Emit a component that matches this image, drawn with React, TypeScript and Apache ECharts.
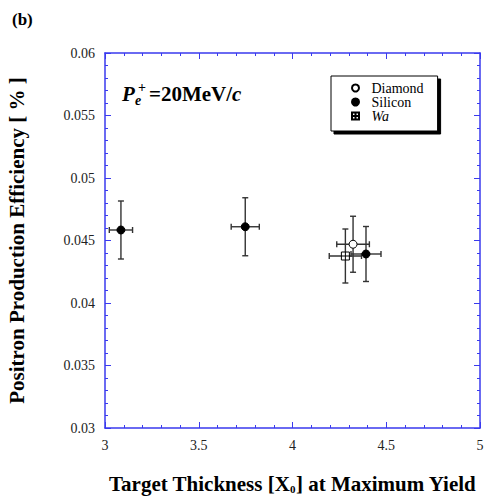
import React, { useEffect, useRef } from "react";
import * as echarts from "echarts";

const FONT = "Liberation Serif";

const seriesNames = ["Diamond", "Silicon", "Wa"];

const diamondX = [4.323];
const diamondY = [0.0447];
const diamondXErr = [0.087];
const diamondYErr = [0.00224];

const siliconX = [3.085, 3.748, 4.392];
const siliconY = [0.04584, 0.0461, 0.04392];
const siliconXErr = [0.062, 0.075, 0.08];
const siliconYErr = [0.00232, 0.00232, 0.0022];

const waX = [4.282];
const waY = [0.04376];
const waXErr = [0.086];
const waYErr = [0.00216];

const xTicks = [3, 3.5, 4, 4.5, 5];
const yTicks = [0.03, 0.035, 0.04, 0.045, 0.05, 0.055, 0.06];

const WA_SYMBOL = "path://M0,0H10V10H0ZM5,0V10M0,5H10";

function pts(xs: number[], ys: number[]) {
  return xs.map((x, i) => [x, ys[i]]);
}
function errs(xs: number[], ys: number[], xe: number[], ye: number[]) {
  return xs.map((x, i) => [x, ys[i], xe[i], ye[i]]);
}

export default function App() {
  const ref = useRef<HTMLDivElement>(null);
  useEffect(() => {
    if (!ref.current) return;
    const chart = echarts.init(ref.current, null, { renderer: "svg" });
    const axisColor = "#3a3aee";
    const errData = [
      ...errs(diamondX, diamondY, diamondXErr, diamondYErr),
      ...errs(siliconX, siliconY, siliconXErr, siliconYErr),
      ...errs(waX, waY, waXErr, waYErr),
    ];
    const commonX = {
      type: "value",
      min: xTicks[0],
      max: xTicks[xTicks.length - 1],
      interval: 0.5,
      axisLine: { show: true, lineStyle: { color: axisColor, width: 1.5 } },
      axisTick: { show: true, inside: true, length: 6, lineStyle: { color: axisColor } },
      minorTick: { show: true, splitNumber: 5, length: 3, lineStyle: { color: axisColor } },
      splitLine: { show: false },
    };
    const commonY = {
      type: "value",
      min: yTicks[0],
      max: yTicks[yTicks.length - 1],
      interval: 0.005,
      axisLine: { show: true, lineStyle: { color: axisColor, width: 1.5 } },
      axisTick: { show: true, inside: true, length: 6, lineStyle: { color: axisColor } },
      minorTick: { show: true, splitNumber: 5, length: 3, lineStyle: { color: axisColor } },
      splitLine: { show: false },
    };
    const bi = { fontFamily: FONT, fontWeight: "bold", fontStyle: "italic", fill: "#000" };
    chart.setOption({
      animation: false,
      backgroundColor: "#ffffff",
      grid: { left: 105, right: 16, top: 53, bottom: 68, outerBoundsMode: "none", containLabel: false },
      xAxis: [
        {
          ...commonX,
          position: "bottom",
          axisLabel: {
            color: "#222",
            fontFamily: FONT,
            fontSize: 14,
            margin: 10,
            formatter: (v: number) => String(v),
          },
          name: "{b|Target Thickness [X}{s|0}{b|] at Maximum Yield}",
          nameLocation: "middle",
          nameGap: 45,
          nameTextStyle: {
            rich: {
              b: { fontFamily: FONT, fontSize: 21, fontWeight: "bold", color: "#000" },
              s: {
                fontFamily: FONT,
                fontSize: 11,
                fontWeight: "bold",
                color: "#000",
                verticalAlign: "bottom",
                padding: [10, 0, 0, 0],
              },
            },
          },
        },
        { ...commonX, position: "top", axisLabel: { show: false } },
      ],
      yAxis: [
        {
          ...commonY,
          position: "left",
          axisLabel: {
            color: "#222",
            fontFamily: FONT,
            fontSize: 14,
            margin: 10,
            formatter: (v: number) => String(Number(v.toFixed(4))),
          },
          name: "Positron Production Efficiency [ % ]",
          nameLocation: "middle",
          nameGap: 78,
          nameTextStyle: {
            fontFamily: FONT,
            fontSize: 21,
            fontWeight: "bold",
            color: "#000",
          },
        },
        { ...commonY, position: "right", axisLabel: { show: false } },
      ],
      legend: {
        left: 331,
        top: 76,
        orient: "vertical",
        data: [
          { name: seriesNames[0] },
          { name: seriesNames[1] },
          { name: seriesNames[2], textStyle: { fontStyle: "italic" } },
        ],
        itemWidth: 22,
        itemHeight: 7,
        itemGap: 0,
        padding: [5, 14, 8, 20],
        backgroundColor: "#fff",
        borderColor: "#000",
        borderWidth: 1,
        borderRadius: 0,
        shadowColor: "#000",
        shadowBlur: 0,
        shadowOffsetX: 3,
        shadowOffsetY: 3,
        textStyle: { fontFamily: FONT, fontSize: 14, color: "#000" },
      },
      graphic: [
        {
          type: "text",
          left: 12,
          top: 11,
          style: { text: "(b)", fontFamily: FONT, fontSize: 17, fontWeight: "bold", fill: "#000" },
        },
        {
          type: "group",
          left: 122,
          top: 80,
          children: [
            {
              type: "text",
              x: 0,
              y: 0,
              style: { text: "P", fontSize: 21, ...bi },
            },
            {
              type: "text",
              x: 13,
              y: 10,
              style: { text: "e", fontSize: 14, ...bi },
            },
            {
              type: "text",
              x: 16,
              y: -3,
              style: { text: "+", fontSize: 14, fontFamily: FONT, fontWeight: "bold", fill: "#000" },
            },
            {
              type: "text",
              x: 27,
              y: 0,
              style: {
                text: "{b|=20MeV/}{i|c}",
                rich: {
                  b: { fontFamily: FONT, fontSize: 21, fontWeight: "bold", fill: "#000" },
                  i: { fontSize: 21, ...bi },
                },
              },
            },
          ],
        },
      ],
      series: [
        {
          type: "custom",
          name: "errors",
          xAxisIndex: 0,
          yAxisIndex: 0,
          data: errData,
          encode: { x: 0, y: 1 },
          z: 2,
          renderItem: (params: any, api: any) => {
            const x = api.value(0);
            const y = api.value(1);
            const xe = api.value(2);
            const ye = api.value(3);
            const l = api.coord([x - xe, y]);
            const r = api.coord([x + xe, y]);
            const t = api.coord([x, y + ye]);
            const b = api.coord([x, y - ye]);
            const style = { stroke: "#333", lineWidth: 1.4 };
            const cap = 3;
            const line = (x1: number, y1: number, x2: number, y2: number) => ({
              type: "line",
              shape: { x1, y1, x2, y2 },
              style,
            });
            return {
              type: "group",
              children: [
                line(l[0], l[1], r[0], r[1]),
                line(t[0], t[1], b[0], b[1]),
                line(l[0], l[1] - cap, l[0], l[1] + cap),
                line(r[0], r[1] - cap, r[0], r[1] + cap),
                line(t[0] - cap, t[1], t[0] + cap, t[1]),
                line(b[0] - cap, b[1], b[0] + cap, b[1]),
              ],
            };
          },
        },
        {
          type: "scatter",
          name: seriesNames[0],
          data: pts(diamondX, diamondY),
          symbol: "circle",
          symbolSize: 8,
          z: 3,
          itemStyle: { color: "#fff", borderColor: "#000", borderWidth: 1, opacity: 1 },
        },
        {
          type: "scatter",
          name: seriesNames[1],
          data: pts(siliconX, siliconY),
          symbol: "circle",
          symbolSize: 8,
          z: 3,
          itemStyle: { color: "#000", borderColor: "#000", borderWidth: 1, opacity: 1 },
        },
        {
          type: "scatter",
          name: seriesNames[2],
          data: pts(waX, waY),
          symbol: WA_SYMBOL,
          symbolSize: 8,
          z: 3,
          itemStyle: { color: "#fff", borderColor: "#000", borderWidth: 1, opacity: 1 },
        },
      ],
    });
    return () => chart.dispose();
  }, []);
  return (
    <div
      ref={ref}
      style={{ position: "fixed", left: 0, top: 0, width: 496, height: 496, background: "#fff" }}
    />
  );
}
